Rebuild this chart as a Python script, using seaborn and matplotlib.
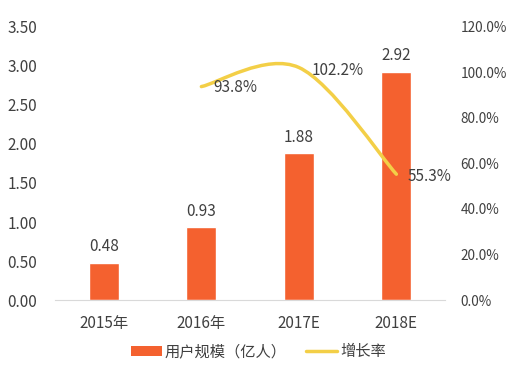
import numpy as np
import pandas as pd
import matplotlib
matplotlib.use("Agg")
from matplotlib import pyplot as plt
from matplotlib.path import Path
from matplotlib.patches import PathPatch, Patch
from matplotlib.lines import Line2D
import seaborn as sns

years = ["2015年", "2016年", "2017E", "2018E"]
users = [0.48, 0.93, 1.88, 2.92]
rate_years = [1, 2, 3]
rates = [0.938, 1.022, 0.553]
rate_labels = ["93.8%", "102.2%", "55.3%"]

bar_color = "#F4612F"
line_color = "#F3CF47"
text_color = "#404040"

sns.set_style("white")
plt.rcParams['font.family'] = ['Noto Sans CJK SC', 'DejaVu Sans']

df = pd.DataFrame({"year": years, "users": users})

fig = plt.figure(figsize=(5.2, 3.8), dpi=100)
ax = fig.add_axes([0.106, 0.2105, 0.75, 0.7185])
sns.barplot(data=df, x="year", y="users", color=bar_color, width=0.31,
            saturation=1, ax=ax)
ax.set_xlim(-0.5, 3.5)
ax.set_ylim(0, 3.5)
ax.set_yticks(np.arange(0, 3.51, 0.5))
ax.set_yticklabels([f"{v:.2f}" for v in np.arange(0, 3.51, 0.5)])
ax.set_xlabel("")
ax.set_ylabel("")
for s in ["top", "right", "left"]:
    ax.spines[s].set_visible(False)
ax.spines["bottom"].set_color("#D9D9D9")
ax.tick_params(axis="both", length=0, colors=text_color, labelsize=11)
ax.tick_params(axis="y", pad=13)
ax.tick_params(axis="x", pad=11)
for i, v in enumerate(users):
    ax.text(i, v + 0.1, f"{v:.2f}", ha="center", va="bottom",
            fontsize=11, color=text_color)

ax2 = ax.twinx()
ax2.set_ylim(0, 1.2)
ax2.set_yticks(np.arange(0, 1.21, 0.2))
ax2.set_yticklabels([f"{v * 100:.1f}%" for v in np.arange(0, 1.21, 0.2)])
for s in ax2.spines.values():
    s.set_visible(False)
ax2.tick_params(axis="y", length=0, colors=text_color, labelsize=9.8, pad=11)

# smoothed line (Excel-style bezier through the data points)
pts = np.column_stack([rate_years, rates]).astype(float)
verts = [tuple(pts[0])]
codes = [Path.MOVETO]
n = len(pts)
for i in range(n - 1):
    p_prev = pts[i - 1] if i > 0 else pts[i]
    p_next2 = pts[i + 2] if i + 2 < n else pts[i + 1]
    c1 = pts[i] + (pts[i + 1] - p_prev) / 6
    c2 = pts[i + 1] - (p_next2 - pts[i]) / 6
    verts += [tuple(c1), tuple(c2), tuple(pts[i + 1])]
    codes += [Path.CURVE4] * 3
ax2.add_patch(PathPatch(Path(verts, codes), fill=False, edgecolor=line_color,
                        lw=2.5, capstyle="round"))

offsets = [(0.12, -0.005), (0.13, -0.015), (0.12, -0.01)]
for x, y, lab, (dx, dy) in zip(rate_years, rates, rate_labels, offsets):
    ax2.text(x + dx, y + dy, lab, ha="left", va="center", fontsize=11,
             color=text_color)

handles = [Patch(facecolor=bar_color, edgecolor="none"),
           Line2D([0], [0], color=line_color, lw=2.5)]
fig.legend(handles, ["用户规模（亿人）", "增长率"], loc="center",
           bbox_to_anchor=(0.497, 0.074), ncol=2, frameon=False,
           fontsize=11, handlelength=2.0, handleheight=0.6,
           columnspacing=1.3, handletextpad=0.2, labelcolor=text_color)

fig.savefig("out.png", dpi=100)
